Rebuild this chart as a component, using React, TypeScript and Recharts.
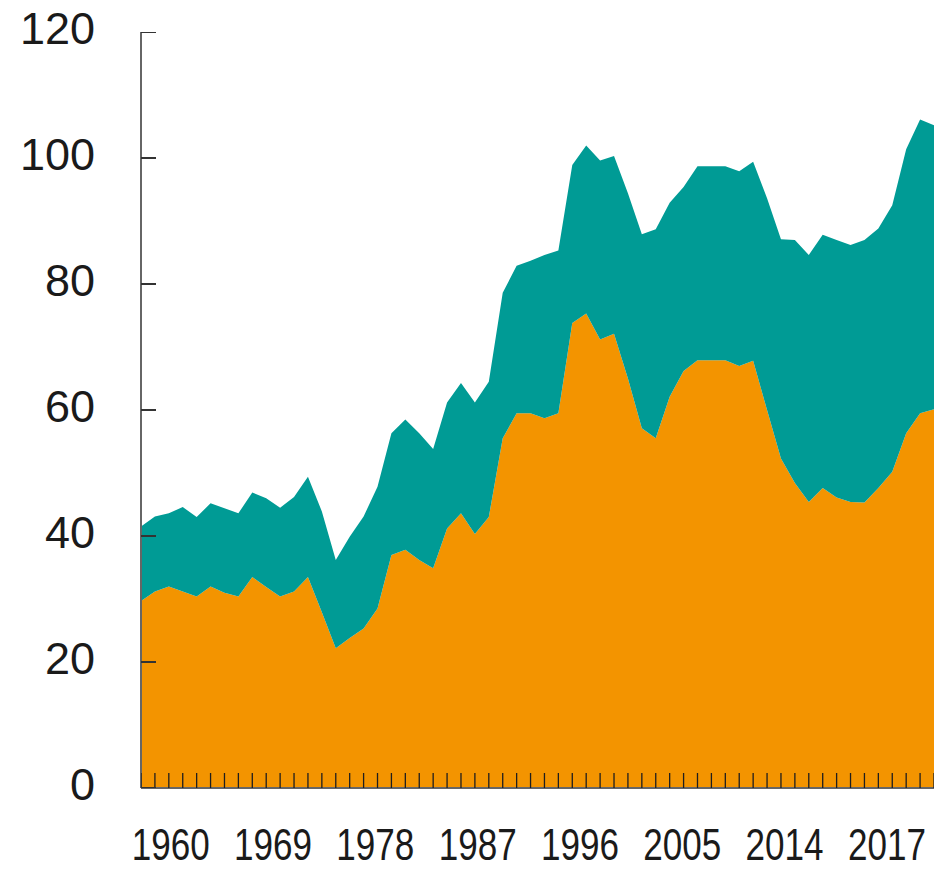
import React from 'react';
import { ComposedChart, Area, Scatter, XAxis, YAxis } from 'recharts';

const years = [
  1960, 1961, 1962, 1963, 1964, 1965, 1966, 1967, 1968, 1969,
  1970, 1971, 1972, 1973, 1974, 1975, 1976, 1977, 1978, 1979,
  1980, 1981, 1982, 1983, 1984, 1985, 1986, 1987, 1988, 1989,
  1990, 1991, 1992, 1993, 1994, 1995, 1996, 1997, 1998, 1999,
  2000, 2001, 2002, 2003, 2004, 2005, 2006, 2007, 2008, 2009,
  2010, 2011, 2012, 2013, 2014, 2015, 2016, 2017,
];

const orangeValues = [
  29.7, 31.2, 32.0, 31.2, 30.4, 32.0, 31.0, 30.4, 33.5, 31.9,
  30.4, 31.2, 33.5, 27.9, 22.2, 23.8, 25.3, 28.5, 37.0, 37.8,
  36.2, 34.9, 41.2, 43.6, 40.3, 43.0, 55.5, 59.5, 59.5, 58.7,
  59.5, 73.8, 75.3, 71.2, 72.1, 65.0, 57.1, 55.5, 62.1, 66.2,
  67.9, 67.9, 67.9, 67.0, 67.8, 60.0, 52.3, 48.4, 45.4, 47.6,
  46.1, 45.4, 45.3, 47.6, 50.2, 56.3, 59.5, 60.1,
];

const tealValues = [
  11.8, 11.9, 11.6, 13.4, 12.6, 13.2, 13.4, 13.2, 13.4, 14.1,
  14.1, 15.0, 15.9, 16.0, 14.0, 16.1, 17.8, 19.3, 19.3, 20.7,
  20.1, 18.9, 20.0, 20.7, 20.9, 21.5, 23.1, 23.4, 24.2, 25.9,
  25.8, 25.1, 26.7, 28.4, 28.2, 29.4, 30.8, 33.2, 30.8, 29.2,
  30.8, 30.8, 30.8, 30.9, 31.6, 33.6, 34.8, 38.6, 39.2, 40.2,
  40.9, 40.8, 41.7, 41.2, 42.3, 45.1, 46.6, 45.1,
];

const xLabels = ['1960', '1969', '1978', '1987', '1996', '2005', '2014', '2017'];
const yTicks = [0, 20, 40, 60, 80, 100, 120];

const data = years.map((year, i) => ({
  year,
  orange: orangeValues[i],
  teal: tealValues[i],
}));

// tick-mark anchors, placed through the chart's own scales
const xTickMarks = years.map((year) => ({ year, v: 0 }));
const yTickMarks = yTicks.map((v) => ({ year: years[0], v }));

const labelSlots = xLabels.map((_, i) => i);

const FONT = "'Liberation Sans', Arial, sans-serif";

const XLabelTick = (props: any) => {
  const { x, y, payload } = props;
  const text = xLabels[payload.value] ?? '';
  return (
    <text
      x={x}
      y={y + 65}
      textAnchor="middle"
      fontFamily={FONT}
      fontSize={44}
      fill="#1a1a1a"
      textLength={78}
      lengthAdjust="spacingAndGlyphs"
    >
      {text}
    </text>
  );
};

const YLabelTick = (props: any) => {
  const { x, y, payload } = props;
  return (
    <text x={x} y={y + 12} textAnchor="end" fontFamily={FONT} fontSize={45} fill="#1a1a1a">
      {String(payload.value)}
    </text>
  );
};

const XTickMark = (props: any) => {
  const { cx, cy } = props;
  if (cx == null || cy == null) return null;
  return <line x1={cx} x2={cx} y1={cy} y2={cy - 15} stroke="#1e1e1e" strokeWidth={1.3} />;
};

const YTickMark = (props: any) => {
  const { cx, cy } = props;
  if (cx == null || cy == null) return null;
  return <line x1={cx} x2={cx + 15} y1={cy} y2={cy} stroke="#333" strokeWidth={2} />;
};

const CHART_W = 936;
const CHART_H = 869;
const MARGIN = { top: 32, right: 2, bottom: 0, left: 0 };

export default function App() {
  return (
    <div style={{ position: 'absolute', left: 0, top: 0, width: CHART_W, height: CHART_H, background: '#fff' }}>
      <ComposedChart width={CHART_W} height={CHART_H} data={data} margin={MARGIN}>
        <XAxis
          xAxisId="a"
          dataKey="year"
          type="number"
          domain={[years[0], years[years.length - 1]]}
          ticks={years}
          interval={0}
          allowDataOverflow
          tick={false}
          tickLine={false}
          height={1}
          axisLine={{ stroke: '#666', strokeWidth: 2 }}
        />
        <XAxis
          xAxisId="b"
          dataKey="labelSlot"
          type="number"
          domain={[-0.29, 7.46]}
          ticks={labelSlots}
          interval={0}
          allowDataOverflow
          axisLine={false}
          tickLine={false}
          height={80}
          tick={<XLabelTick />}
          tickMargin={0}
        />
        <YAxis
          dataKey="v"
          type="number"
          domain={[0, 120]}
          ticks={yTicks}
          interval={0}
          allowDataOverflow
          width={141}
          tickSize={0}
          tickMargin={46}
          tickLine={false}
          axisLine={{ stroke: '#666', strokeWidth: 2 }}
          tick={<YLabelTick />}
        />
        <Area
          xAxisId="a"
          type="linear"
          dataKey="orange"
          stackId="s"
          stroke="none"
          fill="#F39400"
          fillOpacity={1}
          isAnimationActive={false}
        />
        <Area
          xAxisId="a"
          type="linear"
          dataKey="teal"
          stackId="s"
          stroke="none"
          fill="#009B95"
          fillOpacity={1}
          isAnimationActive={false}
        />
        <Scatter
          xAxisId="a"
          data={xTickMarks}
          dataKey="v"
          shape={<XTickMark />}
          isAnimationActive={false}
        />
        <Scatter
          xAxisId="a"
          data={yTickMarks}
          dataKey="v"
          shape={<YTickMark />}
          isAnimationActive={false}
        />
      </ComposedChart>
    </div>
  );
}
